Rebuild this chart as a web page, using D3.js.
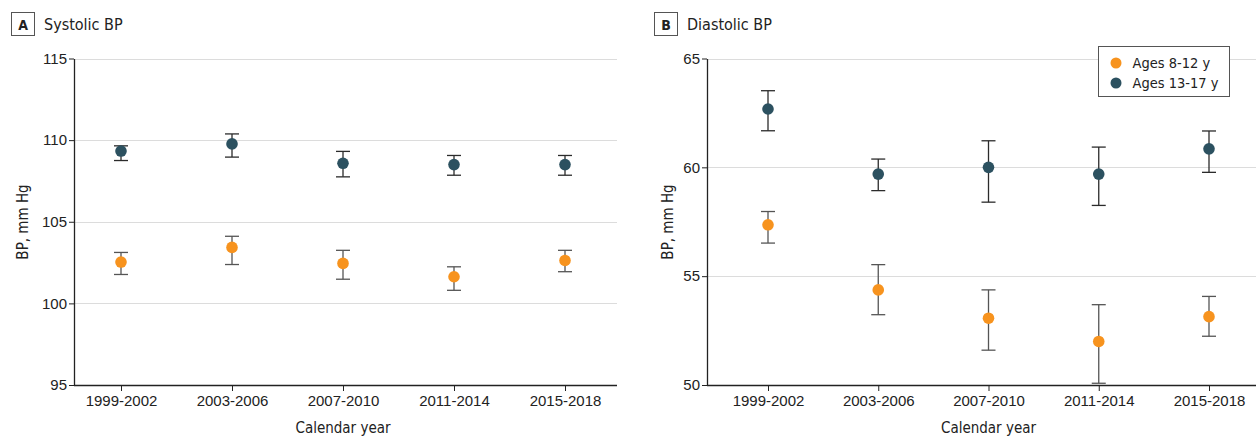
<!DOCTYPE html>
<html>
<head>
<meta charset="utf-8">
<script src="https://cdn.jsdelivr.net/npm/d3@7"></script>
<style>
  html, body { margin: 0; padding: 0; background: #fff; }
  svg { display: block; font-family: "Liberation Sans Narrow", "DejaVu Sans Condensed", "Open Sans", sans-serif; }
</style>
</head>
<body>
<svg id="chart" width="1256" height="436"></svg>
<script>
// Calendar periods (x categories)
const periods = ["1999-2002", "2003-2006", "2007-2010", "2011-2014", "2015-2018"];
const seriesNames = ["Ages 8-12 y", "Ages 13-17 y"];

// Systolic BP, mm Hg: mean, lower and upper 95% CI
const sysYoungMean = [102.53, 103.43, 102.45, 101.63, 102.63];
const sysYoungLow  = [101.77, 102.38, 101.48, 100.80, 101.94];
const sysYoungHigh = [103.12, 104.11, 103.25, 102.24, 103.25];
const sysOldMean   = [109.33, 109.77, 108.58, 108.50, 108.50];
const sysOldLow    = [108.75, 108.96, 107.75, 107.85, 107.85];
const sysOldHigh   = [109.65, 110.38, 109.31, 109.06, 109.06];

// Diastolic BP, mm Hg
const diaYoungMean = [57.36, 54.37, 53.07, 52.00, 53.14];
const diaYoungLow  = [56.52, 53.23, 51.60, 50.08, 52.24];
const diaYoungHigh = [57.97, 55.53, 54.37, 53.69, 54.07];
const diaOldMean   = [62.68, 59.69, 60.00, 59.69, 60.85];
const diaOldLow    = [61.68, 58.93, 58.40, 58.25, 59.77];
const diaOldHigh   = [63.52, 60.38, 61.22, 60.93, 61.67];

const sysTicks = [95, 100, 105, 110, 115];
const diaTicks = [50, 55, 60, 65];

const colors = { young: "#f7931e", old: "#2c5160" };
const barColors = { young: "#555", old: "#2b2b2b" };

const svg = d3.select("#chart");

function series(mean, low, high) {
  return periods.map((p, i) => ({ period: p, mean: mean[i], low: low[i], high: high[i] }));
}

function panel(opts) {
  const g = svg.append("g");
  const x = d3.scalePoint().domain(periods).range(opts.xRange);
  const y = d3.scaleLinear().domain(opts.domain).range([385, 58.5]);

  // panel letter and title
  g.append("rect").attr("x", opts.letterX + 0.5).attr("y", 12.5).attr("width", 23).attr("height", 23)
    .attr("fill", "#fff").attr("stroke", "#555").attr("stroke-width", 1);
  g.append("text").attr("x", opts.letterX + 12).attr("y", 29.5).attr("text-anchor", "middle")
    .attr("font-size", 14).attr("font-weight", "bold").attr("fill", "#222").text(opts.letter);
  g.append("text").attr("x", opts.letterX + 33).attr("y", 29.5)
    .attr("font-size", 16).attr("fill", "#222").text(opts.title);

  // gridlines
  g.append("g").selectAll("line").data(opts.ticks.slice(1)).join("line")
    .attr("x1", opts.x0).attr("x2", opts.x1)
    .attr("y1", d => Math.round(y(d)) + 0.5).attr("y2", d => Math.round(y(d)) + 0.5)
    .attr("stroke", "#dcdcdc").attr("stroke-width", 1);

  // y axis
  const yAxis = g.append("g").attr("transform", `translate(${opts.x0},0)`)
    .call(d3.axisLeft(y).tickValues(opts.ticks).tickSize(5).tickSizeOuter(0));
  yAxis.select(".domain").attr("stroke", "#222").attr("stroke-width", 1.3);
  yAxis.selectAll(".tick line").attr("stroke", "#222");
  yAxis.selectAll(".tick text").attr("font-size", 15).attr("fill", "#222")
    .attr("font-family", "inherit").attr("x", -7);

  // x axis
  const xAxis = g.append("g").attr("transform", "translate(0,385)")
    .call(d3.axisBottom(x).tickSize(6).tickSizeOuter(0));
  xAxis.select(".domain").attr("d", `M${opts.x0},0.5H${opts.x1}`)
    .attr("stroke", "#222").attr("stroke-width", 1.3);
  xAxis.selectAll(".tick line").attr("stroke", "#222");
  xAxis.selectAll(".tick text").attr("font-size", 15).attr("fill", "#222")
    .attr("font-family", "inherit").attr("y", 10);

  // axis titles
  g.append("text").attr("x", (opts.xRange[0] + opts.xRange[1]) / 2).attr("y", 433).attr("text-anchor", "middle")
    .attr("font-size", 15).attr("fill", "#222").text("Calendar year");
  g.append("text").attr("transform", `translate(${opts.yTitleX},222) rotate(-90)`)
    .attr("text-anchor", "middle").attr("font-size", 15).attr("fill", "#222").text("BP, mm Hg");

  // error bars and points
  const drawSeries = (data, key) => {
    const s = g.append("g");
    const cap = 7;
    s.selectAll("line.v").data(data).join("line").attr("class", "v")
      .attr("x1", d => x(d.period)).attr("x2", d => x(d.period))
      .attr("y1", d => y(d.low)).attr("y2", d => y(d.high))
      .attr("stroke", barColors[key]).attr("stroke-width", 1.3);
    ["low", "high"].forEach(k => {
      s.selectAll("line." + k).data(data).join("line").attr("class", k)
        .attr("x1", d => x(d.period) - cap).attr("x2", d => x(d.period) + cap)
        .attr("y1", d => y(d[k])).attr("y2", d => y(d[k]))
        .attr("stroke", barColors[key]).attr("stroke-width", 1.3);
    });
    s.selectAll("circle").data(data).join("circle")
      .attr("cx", d => x(d.period)).attr("cy", d => y(d.mean)).attr("r", 5.8)
      .attr("fill", colors[key]);
  };
  drawSeries(opts.young, "young");
  drawSeries(opts.old, "old");
  return g;
}

panel({
  x0: 74, x1: 617, xRange: [121, 565], yTitleX: 28, domain: [95, 115], ticks: sysTicks,
  letter: "A", letterX: 11, title: "Systolic BP",
  young: series(sysYoungMean, sysYoungLow, sysYoungHigh),
  old: series(sysOldMean, sysOldLow, sysOldHigh)
});

panel({
  x0: 707, x1: 1256, xRange: [768, 1209], yTitleX: 673, domain: [50, 65], ticks: diaTicks,
  letter: "B", letterX: 654, title: "Diastolic BP",
  young: series(diaYoungMean, diaYoungLow, diaYoungHigh),
  old: series(diaOldMean, diaOldLow, diaOldHigh)
});

// legend
const legend = svg.append("g").attr("transform", "translate(1098.5,46.5)");
legend.append("rect").attr("width", 131).attr("height", 50)
  .attr("fill", "#fff").attr("stroke", "#555").attr("stroke-width", 1);
seriesNames.forEach((name, i) => {
  const key = i === 0 ? "young" : "old";
  legend.append("circle").attr("cx", 17.5).attr("cy", 16.5 + i * 20).attr("r", 5.5).attr("fill", colors[key]);
  legend.append("text").attr("x", 34).attr("y", 21.5 + i * 20).attr("font-size", 14.5).attr("fill", "#222").text(name);
});
</script>
</body>
</html>
